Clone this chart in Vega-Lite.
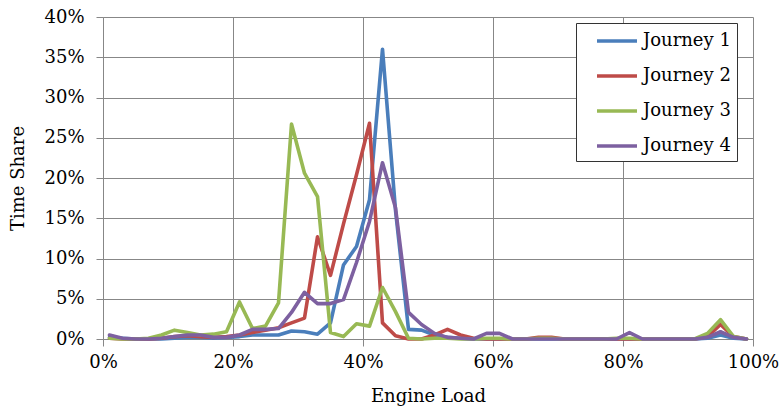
{
  "$schema": "https://vega.github.io/schema/vega-lite/v6.json",
  "width": 650,
  "height": 322,
  "autosize": "none",
  "padding": {"left": 103, "top": 17, "right": 29, "bottom": 70},
  "background": "white",
  "config": {
    "view": {"stroke": null},
    "font": "DejaVu Serif",
    "axis": {
      "gridColor": "#878787",
      "gridOpacity": 1,
      "gridWidth": 1,
      "domainColor": "#878787",
      "tickColor": "#878787",
      "tickSize": 7,
      "labelFont": "DejaVu Serif",
      "labelFontSize": 18,
      "labelColor": "black",
      "titleFont": "DejaVu Serif",
      "titleFontSize": 18,
      "titleFontWeight": "normal",
      "titleColor": "black"
    }
  },
  "data": {
    "values": [
      {"load": 1, "Journey 1": 0.2, "Journey 2": 0.1, "Journey 3": 0.1, "Journey 4": 0.5},
      {"load": 3, "Journey 1": 0.1, "Journey 2": 0.0, "Journey 3": 0.0, "Journey 4": 0.1},
      {"load": 5, "Journey 1": 0.0, "Journey 2": 0.0, "Journey 3": 0.0, "Journey 4": 0.0},
      {"load": 7, "Journey 1": 0.0, "Journey 2": 0.0, "Journey 3": 0.1, "Journey 4": 0.0},
      {"load": 9, "Journey 1": 0.0, "Journey 2": 0.1, "Journey 3": 0.5, "Journey 4": 0.1},
      {"load": 11, "Journey 1": 0.1, "Journey 2": 0.3, "Journey 3": 1.1, "Journey 4": 0.3},
      {"load": 13, "Journey 1": 0.2, "Journey 2": 0.4, "Journey 3": 0.8, "Journey 4": 0.5},
      {"load": 15, "Journey 1": 0.2, "Journey 2": 0.3, "Journey 3": 0.5, "Journey 4": 0.5},
      {"load": 17, "Journey 1": 0.1, "Journey 2": 0.2, "Journey 3": 0.6, "Journey 4": 0.2},
      {"load": 19, "Journey 1": 0.2, "Journey 2": 0.3, "Journey 3": 0.9, "Journey 4": 0.2},
      {"load": 21, "Journey 1": 0.3, "Journey 2": 0.5, "Journey 3": 4.6, "Journey 4": 0.5},
      {"load": 23, "Journey 1": 0.5, "Journey 2": 0.8, "Journey 3": 1.3, "Journey 4": 1.2},
      {"load": 25, "Journey 1": 0.5, "Journey 2": 1.1, "Journey 3": 1.6, "Journey 4": 1.2},
      {"load": 27, "Journey 1": 0.5, "Journey 2": 1.4, "Journey 3": 4.5, "Journey 4": 1.3},
      {"load": 29, "Journey 1": 1.0, "Journey 2": 2.0, "Journey 3": 26.7, "Journey 4": 3.3},
      {"load": 31, "Journey 1": 0.9, "Journey 2": 2.6, "Journey 3": 20.6, "Journey 4": 5.8},
      {"load": 33, "Journey 1": 0.6, "Journey 2": 12.7, "Journey 3": 17.7, "Journey 4": 4.4},
      {"load": 35, "Journey 1": 2.0, "Journey 2": 7.9, "Journey 3": 0.8, "Journey 4": 4.4},
      {"load": 37, "Journey 1": 9.2, "Journey 2": 14.3, "Journey 3": 0.3, "Journey 4": 4.9},
      {"load": 39, "Journey 1": 11.5, "Journey 2": 20.4, "Journey 3": 1.9, "Journey 4": 9.5},
      {"load": 41, "Journey 1": 17.3, "Journey 2": 26.8, "Journey 3": 1.6, "Journey 4": 14.6},
      {"load": 43, "Journey 1": 36.0, "Journey 2": 2.0, "Journey 3": 6.4, "Journey 4": 21.9},
      {"load": 45, "Journey 1": 16.0, "Journey 2": 0.4, "Journey 3": 3.4, "Journey 4": 16.3},
      {"load": 47, "Journey 1": 1.2, "Journey 2": 0.0, "Journey 3": 0.1, "Journey 4": 3.3},
      {"load": 49, "Journey 1": 1.1, "Journey 2": 0.0, "Journey 3": 0.0, "Journey 4": 1.8},
      {"load": 51, "Journey 1": 0.5, "Journey 2": 0.5, "Journey 3": 0.1, "Journey 4": 0.7},
      {"load": 53, "Journey 1": 0.2, "Journey 2": 1.2, "Journey 3": 0.1, "Journey 4": 0.2},
      {"load": 55, "Journey 1": 0.1, "Journey 2": 0.5, "Journey 3": 0.0, "Journey 4": 0.1},
      {"load": 57, "Journey 1": 0.0, "Journey 2": 0.1, "Journey 3": 0.0, "Journey 4": 0.0},
      {"load": 59, "Journey 1": 0.0, "Journey 2": 0.0, "Journey 3": 0.1, "Journey 4": 0.7},
      {"load": 61, "Journey 1": 0.0, "Journey 2": 0.0, "Journey 3": 0.1, "Journey 4": 0.7},
      {"load": 63, "Journey 1": 0.0, "Journey 2": 0.0, "Journey 3": 0.0, "Journey 4": 0.0},
      {"load": 65, "Journey 1": 0.0, "Journey 2": 0.0, "Journey 3": 0.0, "Journey 4": 0.0},
      {"load": 67, "Journey 1": 0.0, "Journey 2": 0.2, "Journey 3": 0.1, "Journey 4": 0.0},
      {"load": 69, "Journey 1": 0.0, "Journey 2": 0.2, "Journey 3": 0.1, "Journey 4": 0.0},
      {"load": 71, "Journey 1": 0.0, "Journey 2": 0.0, "Journey 3": 0.0, "Journey 4": 0.0},
      {"load": 73, "Journey 1": 0.0, "Journey 2": 0.0, "Journey 3": 0.0, "Journey 4": 0.0},
      {"load": 75, "Journey 1": 0.0, "Journey 2": 0.0, "Journey 3": 0.0, "Journey 4": 0.0},
      {"load": 77, "Journey 1": 0.0, "Journey 2": 0.0, "Journey 3": 0.0, "Journey 4": 0.0},
      {"load": 79, "Journey 1": 0.0, "Journey 2": 0.0, "Journey 3": 0.1, "Journey 4": 0.0},
      {"load": 81, "Journey 1": 0.0, "Journey 2": 0.0, "Journey 3": 0.1, "Journey 4": 0.8},
      {"load": 83, "Journey 1": 0.0, "Journey 2": 0.0, "Journey 3": 0.0, "Journey 4": 0.0},
      {"load": 85, "Journey 1": 0.0, "Journey 2": 0.0, "Journey 3": 0.0, "Journey 4": 0.0},
      {"load": 87, "Journey 1": 0.0, "Journey 2": 0.0, "Journey 3": 0.0, "Journey 4": 0.0},
      {"load": 89, "Journey 1": 0.0, "Journey 2": 0.0, "Journey 3": 0.0, "Journey 4": 0.0},
      {"load": 91, "Journey 1": 0.0, "Journey 2": 0.0, "Journey 3": 0.0, "Journey 4": 0.0},
      {"load": 93, "Journey 1": 0.1, "Journey 2": 0.3, "Journey 3": 0.7, "Journey 4": 0.2},
      {"load": 95, "Journey 1": 0.5, "Journey 2": 1.8, "Journey 3": 2.4, "Journey 4": 0.9},
      {"load": 97, "Journey 1": 0.1, "Journey 2": 0.3, "Journey 3": 0.3, "Journey 4": 0.2},
      {"load": 99, "Journey 1": 0.0, "Journey 2": 0.0, "Journey 3": 0.0, "Journey 4": 0.0}
    ]
  },
  "transform": [
    {"fold": ["Journey 1", "Journey 2", "Journey 3", "Journey 4"], "as": ["journey", "share"]}
  ],
  "mark": {"type": "line", "strokeWidth": 3.6, "strokeJoin": "round", "strokeCap": "round"},
  "encoding": {
    "x": {
      "field": "load",
      "type": "quantitative",
      "scale": {"domain": [0, 100], "nice": false, "zero": false},
      "axis": {
        "values": [0, 20, 40, 60, 80, 100],
        "labelExpr": "datum.value + '%'",
        "title": "Engine Load",
        "labelPadding": 7,
        "titlePadding": 16,
        "labelFlush": false
      }
    },
    "y": {
      "field": "share",
      "type": "quantitative",
      "scale": {"domain": [0, 40], "nice": false},
      "axis": {
        "values": [0, 5, 10, 15, 20, 25, 30, 35, 40],
        "labelExpr": "datum.value + '%'",
        "title": "Time Share",
        "labelPadding": 12,
        "titlePadding": 16,
        "labelFlush": false
      }
    },
    "color": {
      "field": "journey",
      "type": "nominal",
      "scale": {
        "domain": ["Journey 1", "Journey 2", "Journey 3", "Journey 4"],
        "range": ["#4A7EBB", "#BE4B48", "#98B954", "#7D60A0"]
      },
      "legend": {
        "title": null,
        "orient": "none",
        "legendX": 473,
        "legendY": 6,
        "symbolType": "M-2,0H2",
        "symbolSize": 400,
        "symbolStrokeWidth": 3.6,
        "symbolOffset": 23,
        "labelFont": "DejaVu Serif",
        "labelFontSize": 18,
        "labelColor": "black",
        "labelOffset": 14,
        "rowPadding": 14,
        "padding": 6,
        "strokeColor": "#333333",
        "fillColor": "white"
      }
    }
  }
}
